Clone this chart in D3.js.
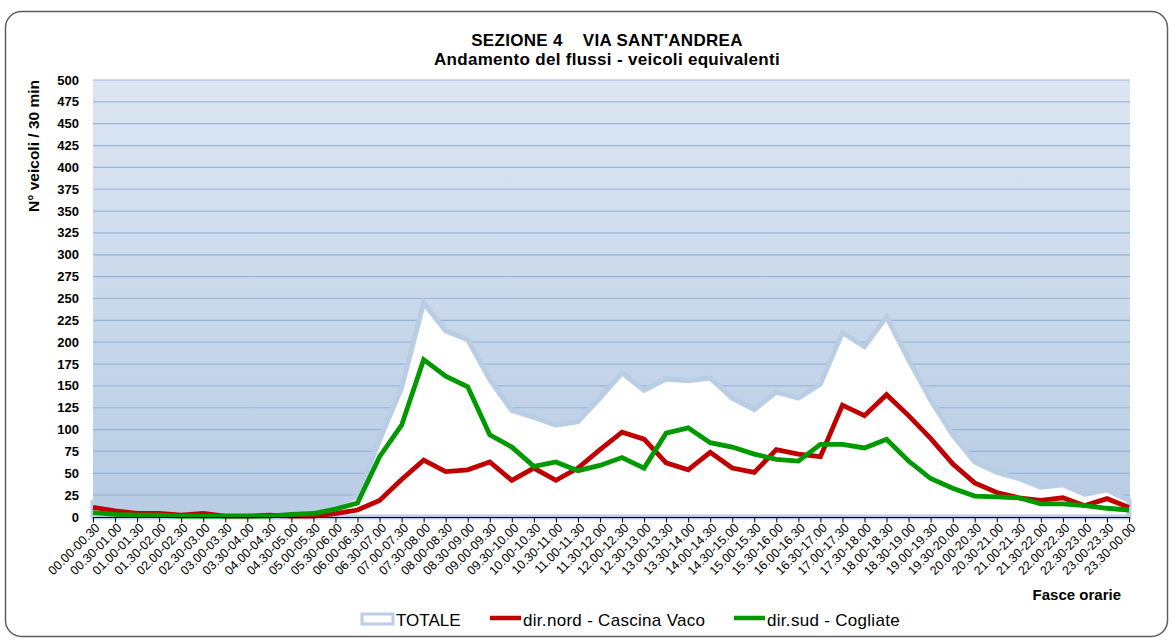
<!DOCTYPE html>
<html>
<head>
<meta charset="utf-8">
<script src="https://cdn.jsdelivr.net/npm/d3@7"></script>
<style>
  body { margin: 0; background: #fff; }
  text { font-family: "Liberation Sans", Arial, sans-serif; }
</style>
</head>
<body>
<svg width="1171" height="641"></svg>
<script>
// fasce orarie (48 half-hours)
var fasce = ["00.00-00.30","00.30-01.00","01.00-01.30","01.30-02.00","02.00-02.30","02.30-03.00",
  "03.00-03.30","03.30-04.00","04.00-04.30","04.30-05.00","05.00-05.30","05.30-06.00",
  "06.00-06.30","06.30-07.00","07.00-07.30","07.30-08.00","08.00-08.30","08.30-09.00",
  "09.00-09.30","09.30-10.00","10.00-10.30","10.30-11.00","11.00-11.30","11.30-12.00",
  "12.00-12.30","12.30-13.00","13.00-13.30","13.30-14.00","14.00-14.30","14.30-15.00",
  "15.00-15.30","15.30-16.00","16.00-16.30","16.30-17.00","17.00-17.30","17.30-18.00",
  "18.00-18.30","18.30-19.00","19.00-19.30","19.30-20.00","20.00-20.30","20.30-21.00",
  "21.00-21.30","21.30-22.00","22.00-22.30","22.30-23.00","23.00-23.30","23.30-00.00"];

var totale = [16,10,6,6,3,5,2,2,3,4,5,13,24,88,148,245,213,203,157,122,114,105,109,136,
  165,145,158,156,159,136,123,143,136,152,211,195,229,180,134,94,63,51,44,34,37,26,31,19];

var dirNord = [11,7,4,4,2,4,1,1,2,1,1,4,8,19,43,65,52,54,63,42,56,42,56,77,
  97,89,62,54,74,56,51,77,72,69,128,116,140,116,90,61,39,28,22,19,22,13,21,11];

var dirSud = [5,3,2,2,1,1,1,1,1,3,4,9,16,69,105,180,161,149,94,80,58,63,53,59,
  68,56,96,102,85,80,72,66,64,83,83,79,89,64,44,33,24,23,22,15,15,13,10,8];

var yTicks = d3.range(0, 501, 25);

var svg = d3.select("svg"),
    plotLeft = 93, plotRight = 1130, plotTop = 80, plotBottom = 517;

var x = d3.scalePoint().domain(fasce).range([plotLeft, plotRight - 1]),
    y = d3.scaleLinear().domain([0, 500]).range([plotBottom, plotTop]);

// outer frame
svg.append("rect")
    .attr("x", 5.5).attr("y", 11.5)
    .attr("width", 1162).attr("height", 625)
    .attr("rx", 16).attr("ry", 16)
    .attr("fill", "#fff")
    .attr("stroke", "#5f5f5f")
    .attr("stroke-width", 1.5);

// plot background gradient
var grad = svg.append("defs").append("linearGradient")
    .attr("id", "bg").attr("x1", 0).attr("y1", 0).attr("x2", 0).attr("y2", 1);
grad.append("stop").attr("offset", "0%").attr("stop-color", "#dce6f2");
grad.append("stop").attr("offset", "100%").attr("stop-color", "#b8cce4");

svg.append("rect")
    .attr("x", plotLeft).attr("y", plotTop)
    .attr("width", plotRight - plotLeft).attr("height", plotBottom - plotTop)
    .attr("fill", "url(#bg)");

// gridlines
svg.append("g")
    .selectAll("line")
    .data(yTicks.filter(function(d) { return d > 0; }))
    .enter().append("line")
    .attr("x1", plotLeft).attr("x2", plotRight)
    .attr("y1", function(d) { return y(d); })
    .attr("y2", function(d) { return y(d); })
    .attr("stroke", "#98b5d8")
    .attr("stroke-width", 1.2);

// TOTALE area
var area = d3.area()
    .x(function(d, i) { return x(fasce[i]); })
    .y0(y(0))
    .y1(function(d) { return y(d); });

svg.append("path")
    .datum(totale)
    .attr("d", area)
    .attr("fill", "#fff")
    .attr("stroke", "#b9cde5")
    .attr("stroke-width", 5);

var line = d3.line()
    .x(function(d, i) { return x(fasce[i]); })
    .y(function(d) { return y(d); });

svg.append("path")
    .datum(dirNord)
    .attr("d", line)
    .attr("fill", "none")
    .attr("stroke", "#c00000")
    .attr("stroke-width", 4.8);

svg.append("path")
    .datum(dirSud)
    .attr("d", line)
    .attr("fill", "none")
    .attr("stroke", "#009a00")
    .attr("stroke-width", 4.8);

// x axis
var xAxis = svg.append("g")
    .attr("transform", "translate(0," + (plotBottom + 0.5) + ")")
    .call(d3.axisBottom(x).tickSize(5).tickSizeOuter(0));
xAxis.select(".domain").attr("stroke", "#000").attr("stroke-width", 1.2)
    .attr("d", "M" + plotLeft + ",0H" + plotRight);
xAxis.selectAll(".tick line").attr("stroke", "#000");
xAxis.selectAll(".tick text")
    .attr("font-size", 12.5)
    .attr("fill", "#000")
    .attr("text-anchor", "end")
    .attr("dy", null).attr("y", 0)
    .attr("transform", "translate(7,11) rotate(-45)");

// y labels
svg.append("g")
    .selectAll("text")
    .data(yTicks)
    .enter().append("text")
    .attr("x", 79)
    .attr("y", function(d) { return y(d) + 4.5; })
    .attr("text-anchor", "end")
    .attr("font-size", 13)
    .attr("font-weight", "bold")
    .text(function(d) { return d; });

// titles
svg.append("text")
    .attr("x", 607).attr("y", 46)
    .attr("text-anchor", "middle")
    .attr("font-size", 17).attr("font-weight", "bold")
    .attr("letter-spacing", 0.3)
    .attr("xml:space", "preserve")
    .text("SEZIONE 4    VIA SANT'ANDREA");

svg.append("text")
    .attr("x", 607).attr("y", 65)
    .attr("text-anchor", "middle")
    .attr("font-size", 17).attr("font-weight", "bold")
    .attr("letter-spacing", 0.3)
    .text("Andamento del flussi - veicoli equivalenti");

svg.append("text")
    .attr("transform", "translate(39,146) rotate(-90)")
    .attr("text-anchor", "middle")
    .attr("font-size", 15.5).attr("font-weight", "bold")
    .text("N° veicoli / 30 min");

svg.append("text")
    .attr("x", 1121).attr("y", 600)
    .attr("text-anchor", "end")
    .attr("font-size", 15).attr("font-weight", "bold")
    .text("Fasce orarie");

// legend
var legend = svg.append("g");
legend.append("rect")
    .attr("x", 362).attr("y", 614)
    .attr("width", 31).attr("height", 10)
    .attr("fill", "#fff")
    .attr("stroke", "#b9cde5")
    .attr("stroke-width", 3);
legend.append("text").attr("x", 396).attr("y", 626)
    .attr("font-size", 17).text("TOTALE");

legend.append("line")
    .attr("x1", 490).attr("x2", 521).attr("y1", 618).attr("y2", 618)
    .attr("stroke", "#c00000").attr("stroke-width", 4.5);
legend.append("text").attr("x", 523).attr("y", 626)
    .attr("font-size", 17).attr("letter-spacing", 0.3)
    .text("dir.nord - Cascina Vaco");

legend.append("line")
    .attr("x1", 734).attr("x2", 765).attr("y1", 618).attr("y2", 618)
    .attr("stroke", "#009a00").attr("stroke-width", 4.5);
legend.append("text").attr("x", 767).attr("y", 626)
    .attr("font-size", 17).attr("letter-spacing", 0.3)
    .text("dir.sud - Cogliate");
</script>
</body>
</html>
